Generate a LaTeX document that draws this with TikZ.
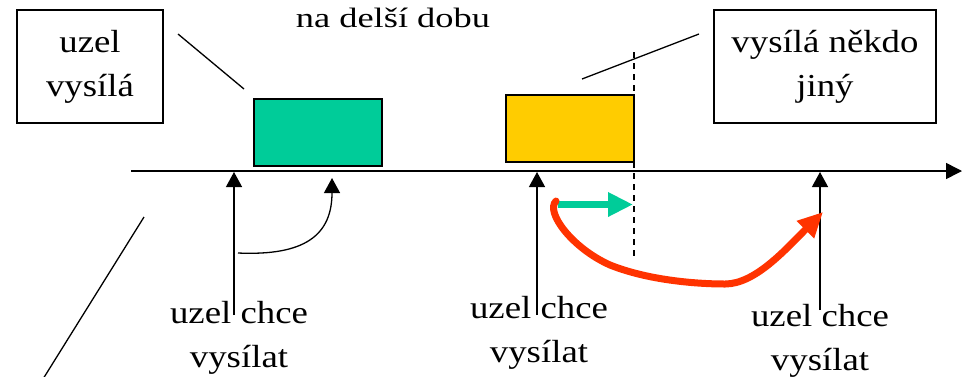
\documentclass[tikz,border=0pt]{standalone}
\usepackage{fontspec}
\setmainfont{Liberation Serif}[FakeStretch=1.15]
\newfontfamily\topfont{Liberation Serif}[FakeStretch=1.3]
\usepackage{tikz}
\usetikzlibrary{shapes.geometric,arrows,arrows.meta}
\definecolor{zelena}{RGB}{0,204,153}
\definecolor{zluta}{RGB}{255,204,0}
\definecolor{cervena}{RGB}{255,51,0}
\tikzstyle{box}=[draw=black, line width=1.3pt, align=center, minimum height=113pt, inner sep=0pt, font=\fontsize{32}{44}\selectfont]
\tikzstyle{blok}=[draw=black, line width=1.5pt, minimum width=128pt, minimum height=67pt, inner sep=0pt]
\tikzstyle{popis}=[align=center, inner sep=0pt, anchor=base, font=\fontsize{32}{44}\selectfont]
\tikzstyle{sipka}=[-{Triangle[length=15pt,width=16pt]}, line width=1.3pt]

\begin{document}
\begin{tikzpicture}[x=1pt,y=-1pt]
\useasboundingbox (0,0) rectangle (965,376);
% popisky nahore
\node[box, minimum width=146pt] (A) at (90,66.5) {uzel\\vysílá};
\node[box, minimum width=222pt] (B) at (825,66.5) {vysílá někdo\\jiný};
\node[anchor=base, inner sep=0pt, font=\topfont\fontsize{28}{34}\selectfont] (T) at (393,27) {na delší dobu};
% vysilani
\node[blok, fill=zelena] (G) at (318,132.5) {};
\node[blok, fill=zluta] (Y) at (570,128.5) {};
% osa
\coordinate (O) at (131,171);
\coordinate (E) at (962,171);
\draw[line width=1.5pt, -{Triangle[length=16pt,width=16pt]}] (O) -- (E);
% odkazove cary
\coordinate (a1) at (178,34);
\coordinate (a2) at (244,89);
\draw[line width=1.3pt] (a1) -- (a2);
\coordinate (b1) at (582,79);
\coordinate (b2) at (699,34);
\draw[line width=1.3pt] (b1) -- (b2);
\coordinate (c1) at (144,217);
\coordinate (c2) at (43,379);
\draw[line width=1.3pt] (c1) -- (c2);
\coordinate (d1) at (634,52);
\coordinate (d2) at (634,256);
\draw[line width=1.3pt, dash pattern=on 6pt off 5pt] (d1) -- (d2);
% uzly chteji vysilat
\node[popis] (L1) at (239,367) {uzel chce\\vysílat};
\node[popis] (L2) at (539,362) {uzel chce\\vysílat};
\node[popis] (L3) at (820,370) {uzel chce\\vysílat};
\coordinate (p1) at (234,315);
\coordinate (t1) at (234,172);
\coordinate (p2) at (537,315);
\coordinate (t2) at (537,172);
\coordinate (p3) at (820,310);
\coordinate (t3) at (820,172);
\draw[sipka] (p1) -- (t1);
\draw[sipka] (p2) -- (t2);
\draw[sipka] (p3) -- (t3);
% cekani
\coordinate (s1) at (238,253);
\coordinate (s2) at (332,178);
\draw[sipka] (s1) .. controls (305,256) and (332,235) .. (s2);
\coordinate (g1) at (558,204.5);
\coordinate (g2) at (633,204.5);
\draw[zelena, line width=7.5pt, -{Triangle[length=25pt,width=23pt]}] (g1) -- (g2);
\coordinate (r1) at (556,201);
\coordinate (r2) at (823,212);
\draw[cervena, line width=7pt, line cap=round, -{Triangle[length=25pt,width=23pt]}] (r1) .. controls (545,212) and (572,248) .. (610,265) .. controls (650,281) and (700,284) .. (725,284) .. controls (755,284) and (785,250) .. (r2);
\end{tikzpicture}
\end{document}
